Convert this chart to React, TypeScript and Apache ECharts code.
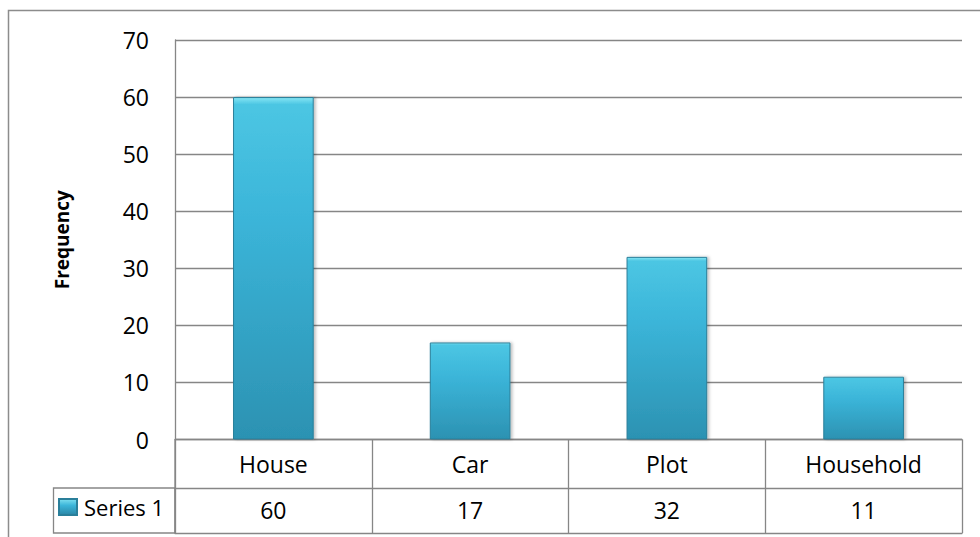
import React, { useEffect, useRef } from "react";
import * as echarts from "echarts";

// Asset categories and their frequencies
const categories = ["House", "Car", "Plot", "Household"];
const seriesName = "Series 1";
const frequencies = [60, 17, 32, 11];
const yTicks = { min: 0, max: 70, step: 10 };

const FONT = "'Open Sans', 'Noto Sans', sans-serif";
const FONT_SIZE = 23;
const GRID_GRAY = "#868686";

const barFill = new echarts.graphic.LinearGradient(0, 0, 0, 1, [
  { offset: 0, color: "#86e6f4" },
  { offset: 0.02, color: "#4cc6e3" },
  { offset: 0.35, color: "#3bb5d9" },
  { offset: 1, color: "#2c92b2" },
]);

const legendIcon = new echarts.graphic.LinearGradient(0, 0, 0, 1, [
  { offset: 0, color: "#7fe0f0" },
  { offset: 0.4, color: "#3bb5d9" },
  { offset: 1, color: "#2a86a6" },
]);

export default function App() {
  const ref = useRef<HTMLDivElement>(null);

  useEffect(() => {
    if (!ref.current) return;
    const chart = echarts.init(ref.current, undefined, { renderer: "svg" });
    chart.setOption({
      animation: false,
      backgroundColor: "#ffffff",
      textStyle: { fontFamily: FONT },
      grid: { left: 175, right: 18, top: 40, bottom: 97.5, containLabel: false },
      legend: {
        data: [{ name: seriesName, itemStyle: { color: legendIcon } }],
        left: 58,
        top: 496,
        itemWidth: 18,
        itemHeight: 16,
        itemGap: 5,
        icon: "rect",
        textStyle: { fontSize: 22, color: "#000", fontFamily: FONT, padding: [0, 0, 0, 2] },
        padding: 0,
      },
      xAxis: [
        {
          type: "category",
          data: categories,
          position: "bottom",
          axisLine: { show: true, lineStyle: { color: GRID_GRAY, width: 1.3 } },
          axisTick: { show: true, length: 93.5, lineStyle: { color: GRID_GRAY, width: 1.3 } },
          axisLabel: {
            fontSize: FONT_SIZE,
            color: "#000",
            fontFamily: FONT,
            verticalAlign: "middle",
            margin: 24,
          },
          splitLine: { show: false },
        },
        {
          type: "category",
          data: frequencies.map((v) => String(v)),
          position: "bottom",
          offset: 48.5,
          axisLine: { show: true, lineStyle: { color: GRID_GRAY, width: 1.3 } },
          axisTick: { show: false },
          axisLabel: {
            fontSize: FONT_SIZE,
            color: "#000",
            fontFamily: FONT,
            verticalAlign: "middle",
            margin: 22,
          },
        },
        {
          type: "category",
          data: categories,
          position: "bottom",
          offset: 93.5,
          axisLine: { show: true, lineStyle: { color: GRID_GRAY, width: 1.3 } },
          axisTick: { show: false },
          axisLabel: { show: false },
        },
      ],
      yAxis: {
        type: "value",
        min: yTicks.min,
        max: yTicks.max,
        interval: yTicks.step,
        name: "Frequency",
        nameLocation: "middle",
        nameRotate: 90,
        nameGap: 104,
        nameTextStyle: { fontSize: 19, fontWeight: "bold", color: "#000", fontFamily: FONT },
        axisLine: { show: true, lineStyle: { color: GRID_GRAY, width: 1.3 } },
        axisTick: { show: false },
        axisLabel: { fontSize: FONT_SIZE, color: "#000", fontFamily: FONT, margin: 26 },
        splitLine: { show: true, lineStyle: { color: GRID_GRAY, width: 1.3 } },
      },
      series: [
        {
          name: seriesName,
          type: "bar",
          xAxisIndex: 0,
          data: frequencies,
          barWidth: "41%",
          itemStyle: {
            color: barFill,
            borderColor: "#2a7f9a",
            borderWidth: 1,
            shadowColor: "rgba(0,0,0,0.25)",
            shadowBlur: 3,
            shadowOffsetX: 2,
            shadowOffsetY: 0,
          },
        },
      ],
      graphic: [
        {
          type: "rect",
          shape: { x: 8.5, y: 10.5, width: 1200, height: 800 },
          style: { fill: "none", stroke: "#8c8c8c", lineWidth: 1.5 },
          silent: true,
        },
        {
          type: "rect",
          shape: { x: 53.5, y: 488, width: 121.5, height: 45 },
          style: { fill: "none", stroke: GRID_GRAY, lineWidth: 1.3 },
          silent: true,
        },
        {
          type: "line",
          shape: { x1: 175, y1: 439.5, x2: 175, y2: 533 },
          style: { stroke: GRID_GRAY, lineWidth: 1.3 },
          silent: true,
        },
      ],
    });
    return () => chart.dispose();
  }, []);

  return <div ref={ref} style={{ width: 980, height: 537, position: "absolute", left: 0, top: 0 }} />;
}
